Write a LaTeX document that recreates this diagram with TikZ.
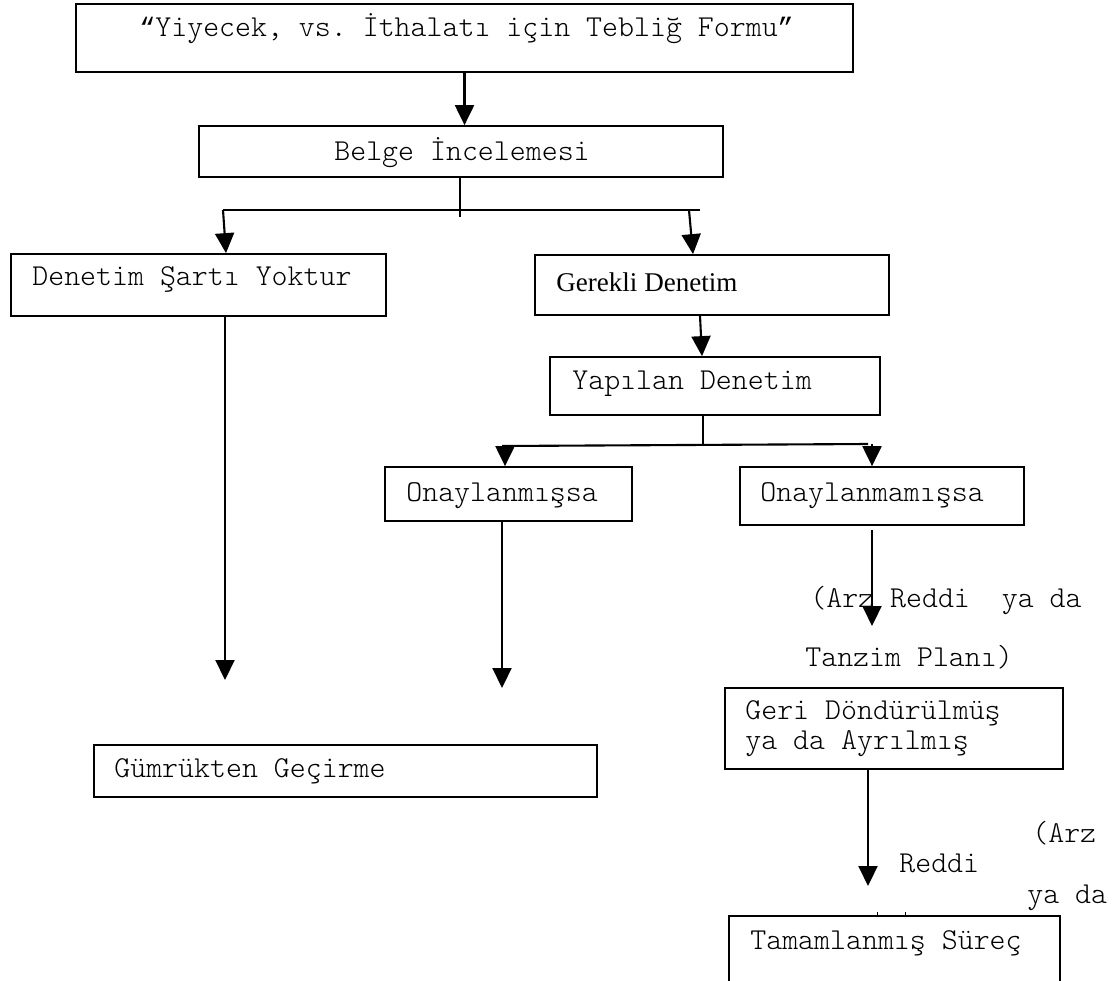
\documentclass[tikz,border=0pt]{standalone}
\usepackage{fontspec}
\setmainfont{Liberation Serif}
\setmonofont{lmmonolt10-regular.otf}
\newfontfamily\quotefont{Liberation Mono}
\usetikzlibrary{arrows.meta}

\begin{document}
\begin{tikzpicture}[x=0.02cm,y=-0.02cm,
  box/.style={draw,line width=1pt,inner sep=0pt},
  txt/.style={inner sep=0pt,anchor=base west,font=\ttfamily\fontsize{17.3}{17.07}\selectfont},
  flow/.style={line width=1.2pt},
  arr/.style={flow,-{Triangle[length=0.4cm,width=0.38cm]}}]
  \clip (0,0) rectangle (1114,980);
  %top
  \node[box,minimum width=15.54cm,minimum height=1.36cm] (form) at (464.5,38) {};
  \node[txt] (form-t) at (139,37) {{\quotefont\fontsize{15.2}{17.07}\selectfont“}Yiyecek, vs. İthalatı için Tebliğ Formu{\quotefont\fontsize{15.2}{17.07}\selectfont”}};
  \node[box,minimum width=10.48cm,minimum height=1.02cm] (review) at (461,151.5) {};
  \node[txt] (review-t) at (334,160) {Belge İncelemesi};
  %left
  \node[box,minimum width=7.5cm,minimum height=1.24cm] (none) at (198.5,285) {};
  \node[txt] (none-t) at (32,285) {Denetim Şartı Yoktur};
  %right
  \node[box,minimum width=7.08cm,minimum height=1.2cm] (need) at (712,285) {};
  \node[txt,font=\rmfamily\fontsize{15.4}{17.07}\selectfont] (need-t) at (556,291) {Gerekli Denetim};
  \node[box,minimum width=6.6cm,minimum height=1.16cm] (check) at (715,386) {};
  \node[txt] (check-t) at (572,389) {Yapılan Denetim};
  \node[box,minimum width=4.94cm,minimum height=1.08cm] (ok) at (508.5,494) {};
  \node[txt] (ok-t) at (406,501) {Onaylanmışsa};
  \node[box,minimum width=5.68cm,minimum height=1.16cm] (notok) at (882,496) {};
  \node[txt] (notok-t) at (760,501) {Onaylanmamışsa};
  \node[txt] (why-a) at (810,607) {(Arz Reddi~~ya da};
  \node[txt] (why-b) at (805,666) {Tanzim Planı)};
  \node[box,minimum width=6.76cm,minimum height=1.62cm] (back) at (894,728.5) {};
  \node[txt,anchor=west,align=left] (back-t) at (745,729) {Geri Döndürülmüş\\ya da Ayrılmış};
  %bottom
  \node[box,minimum width=10.06cm,minimum height=1.04cm] (clear) at (345.5,771) {};
  \node[txt] (clear-t) at (114,777) {Gümrükten Geçirme};
  \node[txt] (rej-a) at (1032,842) {(Arz};
  \node[txt] (rej-b) at (899,872) {Reddi};
  \node[txt] (rej-c) at (1027,903) {ya da};
  \node[box,minimum width=6.62cm,minimum height=1.88cm] (final) at (894.5,963) {};
  \node[txt] (final-t) at (750,949) {Tamamlanmış Süreç};

  %connectors
  \draw[arr] (form.south) -- (form.south |- review.north);
  \coordinate (b1) at (460,217);
  \coordinate (b1l) at (223,210);
  \coordinate (b1r) at (700,210);
  \coordinate (b1a) at (689,210);
  \draw[flow] (review.south -| b1) -- (b1);
  \draw[flow] (b1l) -- (b1r);
  \draw[arr] (b1l) -- ([xshift=0.06cm]b1l |- none.north);
  \draw[arr] (b1a) -- ([xshift=0.08cm]b1a |- need.north);
  \draw[arr] ([xshift=-0.24cm]need.south) -- ([xshift=-0.26cm]check.north);
  \coordinate (b2) at (703,445);
  \coordinate (b2l) at (502,446);
  \coordinate (b2r) at (868,444);
  \draw[flow] (check.south -| b2) -- (b2);
  \draw[flow] (b2l) -- (b2r);
  \draw[arr] ([xshift=0.06cm]b2l) -- ([xshift=0.06cm]b2l |- ok.north);
  \draw[arr] ([xshift=0.08cm]b2r) -- ([xshift=0.08cm]b2r |- notok.north);
  \coordinate (e1) at (225,680);
  \coordinate (e2) at (502,688);
  \coordinate (e3) at (872,626);
  \coordinate (e4) at (868,886);
  \draw[arr] (e1 |- none.south) -- (e1);
  \draw[arr] (e2 |- ok.south) -- (e2);
  \draw[arr] ([yshift=-0.08cm]e3 |- notok.south) -- (e3);
  \draw[arr] (e4 |- back.south) -- (e4);
  \draw[thin] (877,912) -- (877,916);
  \draw[thin] (905,912) -- (905,916);
\end{tikzpicture}
\end{document}
